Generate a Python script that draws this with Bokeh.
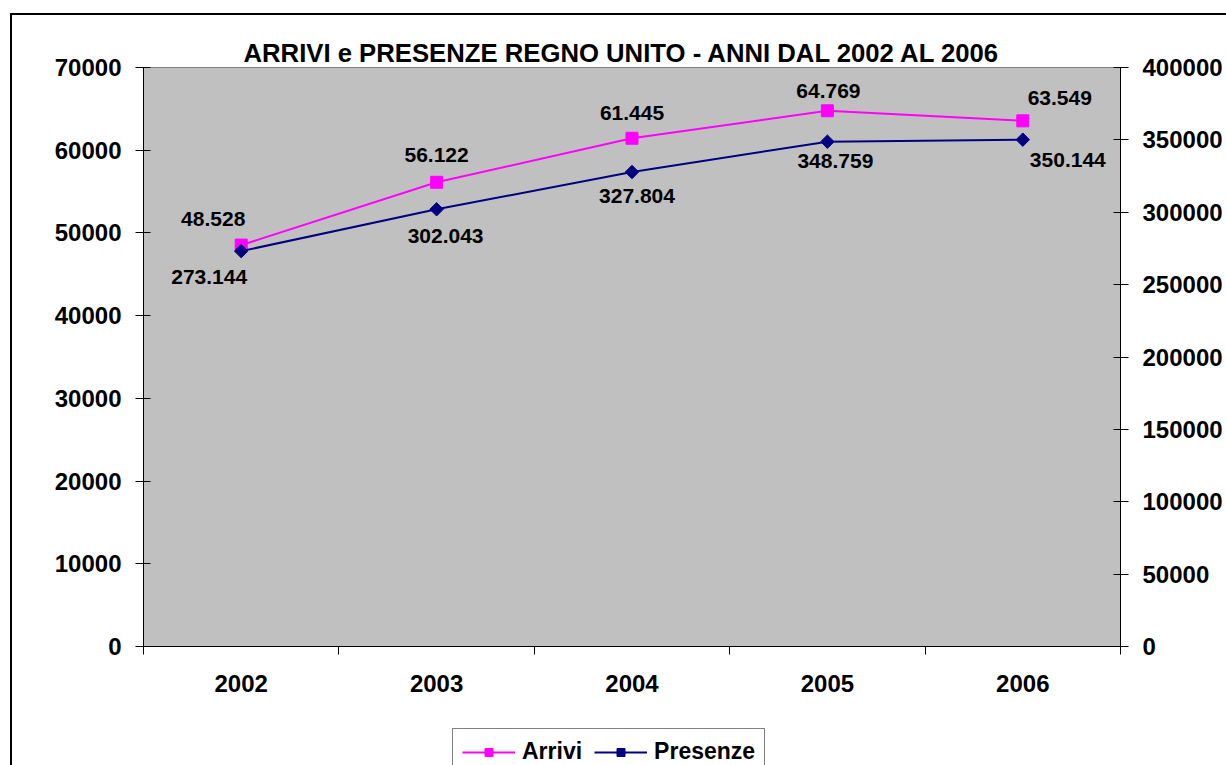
import math
from bokeh.plotting import figure
from bokeh.layouts import column
from bokeh.models import (Range1d, LinearAxis, FixedTicker, ColumnDataSource, LabelSet,
                          Legend, LegendItem, BasicTickFormatter)
from bokeh.core.properties import value
from bokeh.embed import file_html
from bokeh.resources import INLINE

# ---- data ----
years = ["2002", "2003", "2004", "2005", "2006"]
arrivi = [48528, 56122, 61445, 64769, 63549]
presenze = [273144, 302043, 327804, 348759, 350144]
left_ticks = [0, 10000, 20000, 30000, 40000, 50000, 60000, 70000]
right_ticks = [0, 50000, 100000, 150000, 200000, 250000, 300000, 350000, 400000]
series_names = ["Arrivi", "Presenze"]
title_text = "ARRIVI e PRESENZE REGNO UNITO - ANNI DAL 2002 AL 2006"

# ---- label placement (screen px offsets, positive = up) ----
arr_dx = [-28, 0, 0, 1, 37]
arr_dy = [26, 27, 25, 20, 23]
pre_dx = [-32, 9, 5, 8, 45]
pre_dy = [-26, -27, -24, -19, -20]

xs = [i + 0.5 for i in range(len(years))]

def fmt(v):
    return f"{v:,}".replace(",", ".")

FONT = "Liberation Sans"
ARR_STYLE = dict(color="#FF00FF")
PRE_STYLE = dict(color="#000080")

p = figure(width=1226, height=728, x_range=Range1d(0, len(years)),
           y_range=Range1d(left_ticks[0], left_ticks[-1]),
           output_backend="svg", toolbar_location=None,
           min_border_left=143, min_border_right=106, min_border_top=67, min_border_bottom=82)
p.extra_y_ranges = {"right": Range1d(right_ticks[0], right_ticks[-1])}
p.background_fill_color = "#C0C0C0"
p.border_fill_color = None
p.outline_line_color = "#808080"
p.outline_line_width = 1
p.xgrid.visible = False
p.ygrid.visible = False

# ---- title ----
p.title.text = title_text
p.title.text_font = FONT
p.title.text_font_style = "bold"
p.title.text_font_size = "25.7px"
p.title.text_color = "black"
p.title.align = "left"
p.title.offset = 100
p.title.standoff = 2

raxis = LinearAxis(y_range_name="right")
p.add_layout(raxis, "right")

for ax, ticks in ((p.yaxis[0], left_ticks), (raxis, right_ticks)):
    ax.ticker = FixedTicker(ticks=ticks, minor_ticks=[])
    ax.formatter = BasicTickFormatter(use_scientific=False)
    ax.major_tick_in = 7
    ax.major_tick_out = 8
    ax.minor_tick_in = 0
    ax.minor_tick_out = 0
    ax.major_label_standoff = 14

for ax in (p.xaxis[0], p.yaxis[0], raxis):
    ax.axis_line_color = "black"
    ax.axis_line_width = 1
    ax.major_tick_line_color = "black"
    ax.minor_tick_line_color = "black"
    ax.major_label_text_font = FONT
    ax.major_label_text_font_style = "bold"
    ax.major_label_text_font_size = "24px"
    ax.major_label_text_color = "black"

xa = p.xaxis[0]
xa.ticker = FixedTicker(ticks=xs, minor_ticks=list(range(len(years) + 1)))
xa.major_tick_in = 0
xa.major_tick_out = 0
xa.minor_tick_in = 0
xa.minor_tick_out = 8
xa.major_label_standoff = 20
xa.major_label_overrides = {x: y for x, y in zip(xs, years)}

# ---- series ----
p.line(xs, arrivi, line_width=2, **ARR_STYLE)
p.scatter(xs, arrivi, marker="square", size=12, **ARR_STYLE)
p.line(xs, presenze, line_width=2, y_range_name="right", **PRE_STYLE)
p.scatter(xs, presenze, marker="square", angle=math.pi / 4, size=9.5,
          y_range_name="right", **PRE_STYLE)

# ---- data labels ----
src_a = ColumnDataSource(dict(x=xs, y=arrivi, t=[fmt(v) for v in arrivi], dx=arr_dx, dy=arr_dy))
src_p = ColumnDataSource(dict(x=xs, y=presenze, t=[fmt(v) for v in presenze], dx=pre_dx, dy=pre_dy))
for src, rn in ((src_a, "default"), (src_p, "right")):
    ls = LabelSet(x="x", y="y", text="t", x_offset="dx", y_offset="dy", source=src,
                  y_range_name=rn, text_font=value(FONT), text_font_style="bold",
                  text_font_size=value("21px"), text_color="black",
                  text_align="center", text_baseline="middle")
    p.add_layout(ls)

# ---- legend strip (separate figure so the legend is not clipped by the main frame) ----
lf = figure(width=1226, height=37, x_range=Range1d(-10, -9), y_range=Range1d(-10, -9),
            output_backend="svg", toolbar_location=None,
            x_axis_location=None, y_axis_location=None,
            min_border=0, min_border_left=0, min_border_right=0,
            min_border_top=0, min_border_bottom=0)
lf.title.visible = False
lf.background_fill_color = None
lf.border_fill_color = None
lf.outline_line_color = None
lf.xgrid.visible = False
lf.ygrid.visible = False
# same series, plotted out of view: only their legend glyphs show in this strip
la_l = lf.line(xs, arrivi, line_width=2, **ARR_STYLE)
la_s = lf.scatter(xs, arrivi, marker="square", size=12, **ARR_STYLE)
lp_l = lf.line(xs, presenze, line_width=2, **PRE_STYLE)
lp_s = lf.scatter(xs, presenze, marker="square", angle=math.pi / 4, size=9.5, **PRE_STYLE)

legend = Legend(items=[LegendItem(label=series_names[0], renderers=[la_l, la_s]),
                       LegendItem(label=series_names[1], renderers=[lp_l, lp_s])],
                orientation="horizontal", location=(309, -10))
legend.label_text_font = FONT
legend.label_text_font_style = "bold"
legend.label_text_font_size = "23px"
legend.label_text_color = "black"
legend.border_line_color = "black"
legend.border_line_width = 1
legend.background_fill_color = "white"
legend.background_fill_alpha = 1
legend.glyph_width = 53
legend.glyph_height = 20
legend.label_height = 20
legend.label_standoff = 7
legend.spacing = 12
legend.padding = 9
legend.margin = 0
lf.add_layout(legend)

layout = column(p, lf, spacing=0)
layout.styles = {
    "background": "linear-gradient(#000,#000) 10px 13px / 2px calc(100% - 13px) no-repeat, "
                  "linear-gradient(#000,#000) 10px 13px / calc(100% - 10px) 2px no-repeat, #ffffff"
}

open("out.html", "w").write(file_html(layout, INLINE))
